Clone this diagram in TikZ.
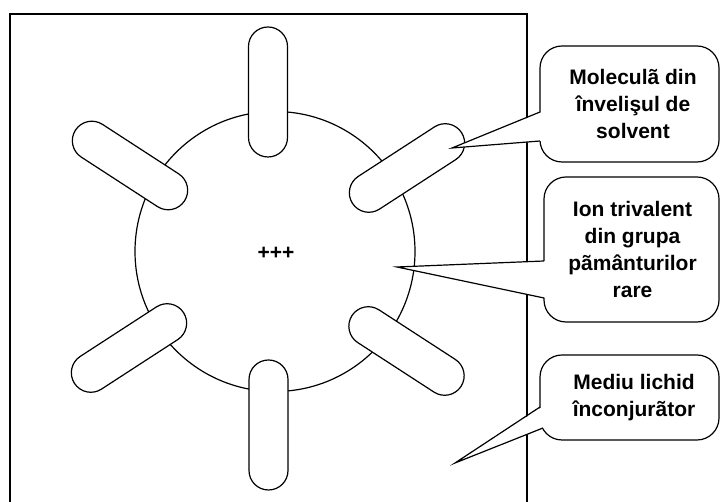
\documentclass[tikz,border=0pt]{standalone}
\usepackage{fontspec}
\setmainfont{Liberation Sans}
\begin{document}
\begin{tikzpicture}[x=1pt,y=1pt,line width=1.2pt,
  pill/.style={draw, fill=white, rounded corners=19.5pt, minimum width=130pt, minimum height=39pt, inner sep=0pt},
  callbox/.style={draw, fill=white, rounded corners=22pt, inner sep=0pt},
  lbl/.style={font=\bfseries\fontsize{21}{27}\selectfont, align=center, inner sep=0pt},
  cover/.style={fill=white, draw=none}]
\useasboundingbox (0,0) rectangle (720,502);
% frame (open at the bottom)
\coordinate (bl) at (10,-5);
\coordinate (tl) at (10,488);
\coordinate (tr) at (527,488);
\coordinate (br) at (527,-5);
\draw (bl) -- (tl) -- (tr) -- (br);
% ion sphere
\node[draw, circle, minimum size=280pt, inner sep=0pt] (ion) at (275,250.5) {};
% solvent molecules
\node[pill, rotate=90]  (m1) at (268,410) {};
\node[pill, rotate=90]  (m2) at (268.5,77) {};
\node[pill, rotate=-33] (m3) at (130,336.5) {};
\node[pill, rotate=33]  (m4) at (407,334) {};
\node[pill, rotate=33]  (m5) at (129,154) {};
\node[pill, rotate=-33] (m6) at (406.5,151) {};
\node[lbl] (charge) at (276,249) {+++};
% callout 1
\node[callbox, minimum width=179pt, minimum height=116pt] (c1) at (629.5,398) {};
\node[lbl] (t1) at (633,398) {Moleculã din\\învelişul de\\solvent};
\coordinate (p1a) at (540,390);
\coordinate (p1b) at (540,361);
\coordinate (tip1) at (452,354);
\fill[cover] (542,390) -- (tip1) -- (542,361) -- cycle;
\draw (p1a) -- (tip1) -- (p1b);
% callout 2
\node[callbox, minimum width=175pt, minimum height=145pt] (c2) at (631.5,252.5) {};
\node[lbl] (t2) at (632.5,252.5) {Ion trivalent\\din grupa\\pãmânturilor\\rare};
\coordinate (p2a) at (544,241);
\coordinate (p2b) at (544,204);
\coordinate (tip2) at (397,235);
\fill[cover] (546,241) -- (tip2) -- (546,204) -- cycle;
\draw (p2a) -- (tip2) -- (p2b);
% callout 3
\node[callbox, minimum width=179pt, minimum height=85pt] (c3) at (629.5,104.5) {};
\node[lbl] (t3) at (634,104.5) {Mediu lichid\\înconjurãtor};
\coordinate (p3a) at (540,95);
\coordinate (p3b) at (543,74);
\coordinate (tip3) at (455,39);
\fill[cover] (542,95) -- (tip3) -- (546,75) -- cycle;
\draw (p3a) -- (tip3) -- (p3b);
\end{tikzpicture}
\end{document}
